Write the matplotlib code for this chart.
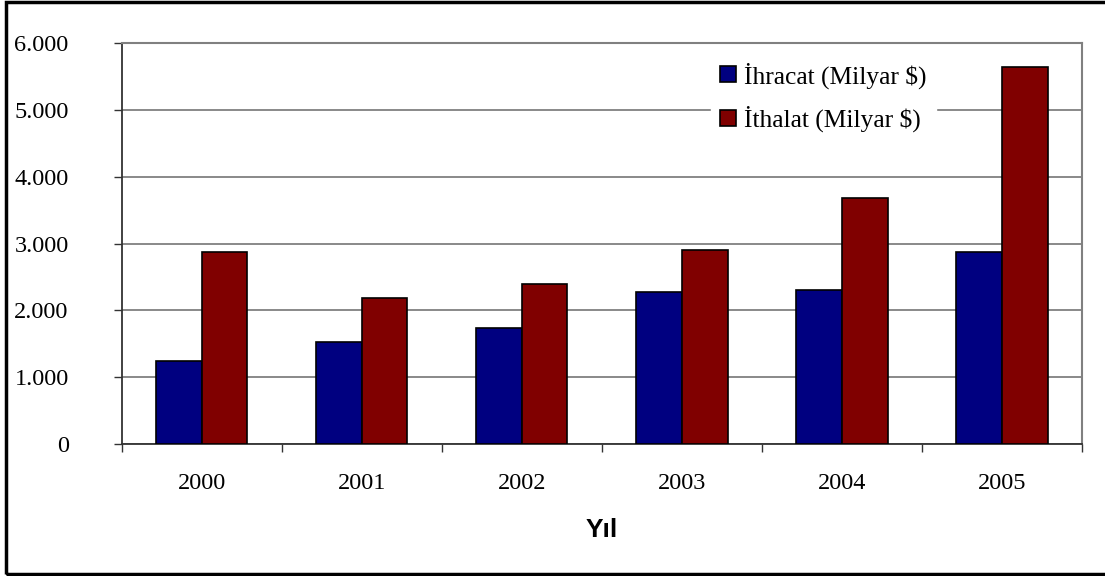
import numpy as np
import matplotlib.pyplot as plt
import matplotlib.patches as mpatches
from matplotlib.ticker import FuncFormatter

# veriler
yillar = ['2000', '2001', '2002', '2003', '2004', '2005']
ihracat = [1240, 1530, 1740, 2280, 2310, 2880]
ithalat = [2880, 2190, 2400, 2910, 3690, 5640]

plt.rcParams['font.family'] = ['Liberation Serif', 'DejaVu Serif']

fig = plt.figure(figsize=(11.05, 5.76), dpi=100)
ax = fig.add_axes([121.5/1105, 1 - 444/576, (1082 - 121.5)/1105, (444 - 43.3)/576])

x = np.arange(len(yillar))
w = 1/3.5
ax.bar(x - w/2, ihracat, w, color='#000080', edgecolor='black', linewidth=1.2,
       label='İhracat (Milyar $)', zorder=3)
ax.bar(x + w/2, ithalat, w, color='#800000', edgecolor='black', linewidth=1.2,
       label='İthalat (Milyar $)', zorder=3)

ax.set_xlim(-0.5, len(yillar) - 0.5)
ax.set_ylim(0, 6000)
ax.set_yticks(np.arange(0, 6001, 1000))
ax.yaxis.set_major_formatter(FuncFormatter(lambda v, p: '{:,.0f}'.format(v).replace(',', '.')))
ax.grid(axis='y', color='#808080', linewidth=1.3, zorder=0)

# x ekseni: etiketler ortada, cizgiler kategori sinirlarinda
ax.set_xticks(x)
ax.set_xticklabels(yillar)
ax.set_xticks(np.arange(-0.5, len(yillar)), minor=True)
ax.tick_params(axis='x', which='major', length=0, pad=21, labelsize=17.5)
ax.tick_params(axis='x', which='minor', length=5.5, width=1, color='#333333', direction='out')
ax.tick_params(axis='y', length=6, width=1, color='#333333', pad=32, labelsize=17.5)

for s in ['top', 'right']:
    ax.spines[s].set_color('#808080')
    ax.spines[s].set_linewidth(1.5)
for s in ['left', 'bottom']:
    ax.spines[s].set_color('#333333')
    ax.spines[s].set_linewidth(1.3)

ax.set_xlabel('Yıl', fontsize=19, fontweight='bold', family=['Liberation Sans', 'DejaVu Sans'],
              labelpad=17)

leg = ax.legend(loc='upper left', bbox_to_anchor=(0.614, 0.975), fontsize=18.4,
                frameon=True, fancybox=False, edgecolor='white', framealpha=1,
                handlelength=0.62, handleheight=0.6, handletextpad=0.33,
                labelspacing=0.67, borderaxespad=0, borderpad=0.35)
leg.set_zorder(5)

# dis cerceve
fig.patches.append(mpatches.Rectangle((6/1105, 2/576), 1.2, 1 - 4/576, transform=fig.transFigure,
                                      fill=False, edgecolor='black', linewidth=2.5))

fig.savefig('out.png', dpi=100)
